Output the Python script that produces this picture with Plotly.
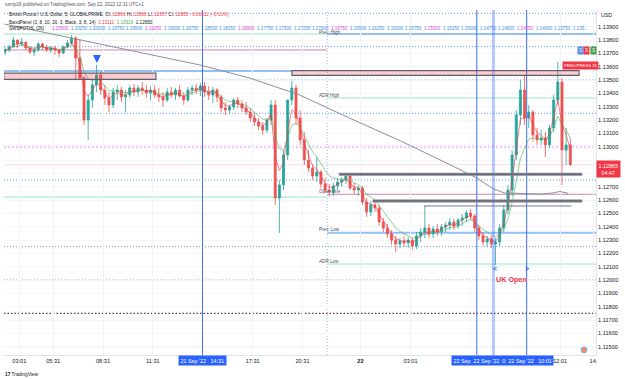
import pandas as pd
import plotly.graph_objects as go

FONT = "Arial, Liberation Sans, sans-serif"
TXT = "#131722"
RED = "#f23645"
TEAL = "#26a69a"
BLUE = "#2962ff"
NB = "\u00a0"

# ---------------- data (GBP/USD, 15-min bars) ----------------
candle_start = "2022-09-21 02:37:30"
first_open = 1.1371
closes = [
    1.13725, 1.13748, 1.138, 1.1377, 1.13785, 1.1374, 1.1371, 1.13725, 1.1377, 1.13748,
    1.13725, 1.1374, 1.13725, 1.13703, 1.13748, 1.13778, 1.13815, 1.13665, 1.13515, 1.132,
    1.1335, 1.13463, 1.13538, 1.13425, 1.13365, 1.13313, 1.1341, 1.13425, 1.13373, 1.13388,
    1.1344, 1.1341, 1.1344, 1.13425, 1.13403, 1.13425, 1.13388, 1.13373, 1.1335, 1.1341,
    1.13388, 1.13425, 1.1338, 1.1335, 1.13425, 1.1344, 1.13425, 1.13455, 1.1341, 1.13388,
    1.13425, 1.13373, 1.1329, 1.13275, 1.13298, 1.1335, 1.1332, 1.1329, 1.1326, 1.13215,
    1.13185, 1.13155, 1.13125, 1.132, 1.13313, 1.12615, 1.12713, 1.12938, 1.1335, 1.1344,
    1.13215, 1.1305, 1.129, 1.1284, 1.1278, 1.1281, 1.1272, 1.12675, 1.1266, 1.12705,
    1.12735, 1.1275, 1.1278, 1.1269, 1.12675, 1.1269, 1.12585, 1.1251, 1.12563, 1.1254,
    1.12435, 1.1239, 1.12345, 1.123, 1.1227, 1.12293, 1.12278, 1.123, 1.12255, 1.1233,
    1.1236, 1.1239, 1.12345, 1.12383, 1.1236, 1.12398, 1.12413, 1.12435, 1.12405, 1.1245,
    1.12465, 1.12503, 1.1248, 1.1239, 1.1233, 1.12285, 1.12308, 1.1227, 1.12285, 1.1239,
    1.12525, 1.12675, 1.12938, 1.13238, 1.13425, 1.13215, 1.1326, 1.13088, 1.1305, 1.13065,
    1.13013, 1.1314, 1.1335, 1.13485, 1.12975, 1.13013, 1.12865]
highs = [
    1.13748, 1.13763, 1.13823, 1.138, 1.13815, 1.13785, 1.13755, 1.1374, 1.13785, 1.13778,
    1.13763, 1.13755, 1.13755, 1.13725, 1.13763, 1.138, 1.13838, 1.1383, 1.138, 1.1353,
    1.13388, 1.135, 1.13613, 1.1356, 1.13463, 1.1341, 1.1344, 1.13463, 1.13448, 1.13425,
    1.13463, 1.1347, 1.13463, 1.13485, 1.13463, 1.13455, 1.13463, 1.1344, 1.1341, 1.1344,
    1.13448, 1.1344, 1.13463, 1.1341, 1.13448, 1.13463, 1.1347, 1.13478, 1.13485, 1.13455,
    1.13448, 1.1344, 1.13388, 1.13335, 1.13313, 1.13365, 1.13373, 1.1335, 1.13335, 1.1329,
    1.1326, 1.13215, 1.13185, 1.13215, 1.1335, 1.1335, 1.1275, 1.12975, 1.1335, 1.13493,
    1.13463, 1.13275, 1.1311, 1.12975, 1.12863, 1.12923, 1.12825, 1.12765, 1.1272, 1.12728,
    1.12765, 1.12773, 1.12795, 1.12795, 1.12728, 1.12705, 1.12705, 1.12615, 1.12593, 1.12593,
    1.12563, 1.12465, 1.1242, 1.12375, 1.1233, 1.12315, 1.1233, 1.12323, 1.12315, 1.1236,
    1.1239, 1.12555, 1.1242, 1.12405, 1.1242, 1.1242, 1.12435, 1.12465, 1.12458, 1.12465,
    1.12495, 1.12525, 1.12533, 1.12495, 1.12413, 1.1236, 1.1233, 1.1233, 1.12315, 1.1242,
    1.12563, 1.12713, 1.12975, 1.13275, 1.135, 1.13538, 1.13313, 1.13275, 1.1314, 1.13125,
    1.1311, 1.13163, 1.13388, 1.13635, 1.13515, 1.1314, 1.13065]
lows = [
    1.13688, 1.1371, 1.13748, 1.1374, 1.13755, 1.13725, 1.13695, 1.1368, 1.1371, 1.13725,
    1.1371, 1.13703, 1.13688, 1.13673, 1.13695, 1.1374, 1.13763, 1.135, 1.135, 1.13163,
    1.1305, 1.1329, 1.1341, 1.13388, 1.13313, 1.1326, 1.1329, 1.1335, 1.13335, 1.1326,
    1.13365, 1.1338, 1.13373, 1.13388, 1.13365, 1.1335, 1.13365, 1.13335, 1.13298, 1.13335,
    1.13365, 1.1335, 1.13365, 1.13313, 1.13335, 1.13388, 1.13395, 1.1338, 1.13373, 1.1335,
    1.13328, 1.13335, 1.1326, 1.13238, 1.13245, 1.13275, 1.1329, 1.1326, 1.13238, 1.13185,
    1.13155, 1.13125, 1.13088, 1.13103, 1.13163, 1.12563, 1.12353, 1.12675, 1.129, 1.13313,
    1.13163, 1.13013, 1.12863, 1.1281, 1.1275, 1.12735, 1.1269, 1.12653, 1.12623, 1.1263,
    1.12675, 1.12698, 1.1272, 1.12675, 1.12645, 1.1263, 1.12563, 1.12473, 1.1248, 1.1251,
    1.12405, 1.1236, 1.12315, 1.12263, 1.1221, 1.1224, 1.12248, 1.1224, 1.12225, 1.12233,
    1.12285, 1.12315, 1.12315, 1.12315, 1.1233, 1.1233, 1.1236, 1.12375, 1.12375, 1.12383,
    1.12405, 1.12435, 1.1245, 1.1236, 1.123, 1.12255, 1.12248, 1.1224, 1.12113, 1.12255,
    1.1236, 1.12495, 1.1263, 1.129, 1.13163, 1.13163, 1.1314, 1.13035, 1.13013, 1.13013,
    1.12923, 1.1299, 1.1311, 1.13313, 1.12713, 1.12863, 1.12855]

# long moving average (grey), read at points
ma_times = ["2022-09-21 02:35", "2022-09-21 08:20", "2022-09-21 14:20", "2022-09-21 17:20",
            "2022-09-21 20:20", "2022-09-21 23:20", "2022-09-22 02:25", "2022-09-22 05:25",
            "2022-09-22 07:00", "2022-09-22 08:00", "2022-09-22 08:40", "2022-09-22 10:50",
            "2022-09-22 11:35", "2022-09-22 12:00", "2022-09-22 12:30"]
ma_values = [1.1392, 1.1377, 1.13613, 1.13515, 1.13388, 1.13215, 1.13043, 1.12863,
             1.12765, 1.12683, 1.12653, 1.12645, 1.12653, 1.12664, 1.1265]

# horizontal levels
swing_levels = [1.14, 1.1375, 1.135, 1.1325, 1.1275, 1.125, 1.1225, 1.12, 1.115]
major_level = 1.13
minor_major_level = 1.1175

prev_session_start = "2022-09-21 02:30"
session_start = "2022-09-21 22:00"
chart_end = "2022-09-22 14:15"
prev_adr_high = 1.13845
prev_adr_low = 1.12622
prev_open = 1.13725
prev_high_line = 1.13568
prev_high_line_end = "2022-09-21 19:53"

level_names = ["Prev. High", "ADR High", "Open Line", "Prev. Low", "ADR Low"]
level_prices = [1.13845, 1.13365, 1.12643, 1.12355, 1.1212]

zone_start = ["2022-09-21 02:33", "2022-09-21 19:53"]
zone_end = ["2022-09-21 11:42", "2022-09-22 13:09"]
zone_low = [1.13505, 1.13534]
zone_high = [1.13551, 1.1357]

sr_start = ["2022-09-21 22:43", "2022-09-22 00:45"]
sr_end = ["2022-09-22 13:20", "2022-09-22 13:20"]
sr_price = [1.12793, 1.12593]
thin_start, thin_end, thin_price = "2022-09-22 03:49", "2022-09-22 12:41", 1.12555

vlines = ["2022-09-21 14:30", "2022-09-22 07:00", "2022-09-22 10:00"]
vline_uk = "2022-09-22 08:00"
vline_session = "2022-09-21 22:00"

last_price = 1.12865

price_tick_vals = [1.115, 1.116, 1.117, 1.118, 1.119, 1.120, 1.121, 1.122, 1.123, 1.124,
                   1.125, 1.126, 1.127, 1.128, 1.129, 1.130, 1.131, 1.132, 1.133, 1.134,
                   1.135, 1.136, 1.137, 1.138, 1.139]
price_tick_text = ["1.11500", "1.11600", "1.11700", "1.11800", "1.11900", "1.12000", "1.12100",
                   "1.12200", "1.12300", "1.12400", "1.12500", "1.12600", "1.12700", "",
                   "", "1.13000", "1.13100", "1.13200", "1.13300", "1.13400", "1.13500",
                   "1.13600", "1.13700", "1.13800", "1.13900"]
time_tick_vals = ["2022-09-21 03:29", "2022-09-21 05:31", "2022-09-21 08:31", "2022-09-21 11:31",
                  "2022-09-21 17:31", "2022-09-21 20:31", "2022-09-22 00:00", "2022-09-22 03:01",
                  "2022-09-22 12:01", "2022-09-22 14:01"]
time_tick_text = ["03:01", "05:31", "08:31", "11:31", "17:31", "20:31", "<b>22</b>", "03:01",
                  "12:01", "14:"]

swspot_values = ["1.20500", "1.20250", "1.20000", "1.19750", "1.19500", "1.19250", "1.19000",
                 "1.18750", "1.18500", "1.18250", "1.18000", "1.17750", "1.17500", "1.17250",
                 "1.17000", "1.16750", "1.16500", "1.16250", "1.16000", "1.15750", "1.15500",
                 "1.15250", "1.15000", "1.14750", "1.14500", "1.14250", "1.14000", "1.13750",
                 "1.135..."]
swspot_major = ["1.20500", "1.19250", "1.18000", "1.16750", "1.15500", "1.14250"]

# ---------------- build ----------------
opens = [first_open] + closes[:-1]
highs = [max(h, o, c) for h, o, c in zip(highs, opens, closes)]
lows = [min(l, o, c) for l, o, c in zip(lows, opens, closes)]
times = pd.date_range(candle_start, periods=len(closes), freq="15min")
cs = pd.Series(closes)
ema_fast = cs.ewm(span=3, adjust=False).mean()
ema_slow = cs.ewm(span=7, adjust=False).mean()

X0, X1 = pd.Timestamp("2022-09-21 02:33:42"), pd.Timestamp("2022-09-22 14:10:15")
Y0, Y1 = 1.114375, 1.14025
L, R, T, B = 4, 596, 10, 355


def PX(xp):
    return (xp - L) / (R - L)


def PY(yp):
    return 1 - (yp - T) / (B - T)


fig = go.Figure()
ann = []

# levels
for lv in swing_levels:
    fig.add_shape(type="line", xref="paper", x0=0, x1=1, y0=lv, y1=lv,
                  line=dict(color="#5fa2f2", width=1, dash="1px,2px"), layer="below")
fig.add_shape(type="line", xref="paper", x0=0, x1=1, y0=major_level, y1=major_level,
              line=dict(color="#e264f2", width=1.6, dash="2px,2px"), layer="below")
fig.add_shape(type="line", xref="paper", x0=0, x1=1, y0=minor_major_level, y1=minor_major_level,
              line=dict(color="#5a2a68", width=1.3, dash="1.5px,2px"), layer="below")
fig.add_shape(type="line", xref="paper", x0=0, x1=1, y0=last_price, y1=last_price,
              line=dict(color="rgba(242,54,69,0.18)", width=1), layer="below")

# previous session lines
for pr, col in [(prev_adr_high, "#9be6bf"), (prev_adr_low, "#9be6bf"), (prev_open, "#c98aab")]:
    fig.add_shape(type="line", x0=prev_session_start, x1=session_start, y0=pr, y1=pr,
                  line=dict(color=col, width=1), layer="below")
fig.add_shape(type="line", x0=prev_session_start, x1=prev_high_line_end, y0=prev_high_line,
              y1=prev_high_line, line=dict(color="#93c0f5", width=2), layer="below")

# current session lines
style = {"Prev. High": ("#93c0f5", 2), "ADR High": ("#9be6bf", 1), "Open Line": ("#c98aab", 1),
         "Prev. Low": ("#93c0f5", 2), "ADR Low": ("#9be6bf", 1)}
for nm, pr in zip(level_names, level_prices):
    col, w = style[nm]
    fig.add_shape(type="line", x0=session_start, x1=chart_end, y0=pr, y1=pr,
                  line=dict(color=col, width=w), layer="below")
    ann.append(dict(x=pd.Timestamp("2022-09-21 21:22"), y=pr, xref="x", yref="y",
                    yshift=2 if nm == "Prev. High" else 3,
                    text=nm, showarrow=False, xanchor="left", yanchor="middle",
                    font=dict(family=FONT, size=4.6, color="#50535e")))

# vertical lines
for vt in vlines:
    fig.add_shape(type="line", x0=vt, x1=vt, yref="paper", y0=0, y1=1,
                  line=dict(color="#3d6ef5", width=1))
fig.add_shape(type="line", x0=vline_uk, x1=vline_uk, yref="paper", y0=0, y1=1,
              line=dict(color="rgba(41,98,255,0.35)", width=3))
fig.add_shape(type="line", x0=vline_session, x1=vline_session, yref="paper", y0=0, y1=1,
              line=dict(color="#8fbaf3", width=1, dash="1px,2px"), layer="below")

# zones
for xs, xe, lo, hi in zip(zone_start, zone_end, zone_low, zone_high):
    fig.add_shape(type="rect", x0=xs, x1=xe, y0=lo, y1=hi,
                  fillcolor="rgba(242,54,69,0.25)", line=dict(color="#5d606b", width=1.2))
for xs, xe, pr in zip(sr_start, sr_end, sr_price):
    fig.add_shape(type="rect", x0=xs, x1=xe, y0=pr - 0.00009, y1=pr + 0.00009,
                  fillcolor="#6a6d78", line=dict(color="#9598a1", width=0.6))
fig.add_shape(type="line", x0=thin_start, x1=thin_end, y0=thin_price, y1=thin_price,
              line=dict(color="#787b86", width=1.2))

# moving averages
fig.add_trace(go.Scatter(x=pd.to_datetime(ma_times), y=ma_values, mode="lines",
                         line=dict(color="#8d8f98", width=1), hoverinfo="skip"))
fig.add_trace(go.Scatter(x=times, y=ema_slow, mode="lines",
                         line=dict(color="rgba(76,175,80,0.6)", width=1), hoverinfo="skip"))
fig.add_trace(go.Scatter(x=times, y=ema_fast, mode="lines",
                         line=dict(color="rgba(242,54,69,0.6)", width=1), hoverinfo="skip"))

fig.add_trace(go.Candlestick(
    x=times, open=opens, high=highs, low=lows, close=closes, whiskerwidth=0,
    increasing=dict(line=dict(color=TEAL, width=0.8), fillcolor=TEAL),
    decreasing=dict(line=dict(color="#ef5350", width=0.8), fillcolor="#ef5350"),
    hoverinfo="skip"))


def txt(xp, yp, text, size=4.7, color=TXT, anchor="left", **kw):
    ann.append(dict(x=PX(xp), y=PY(yp), xref="paper", yref="paper", text=text, showarrow=False,
                    xanchor=anchor, yanchor="middle",
                    font=dict(family=FONT, size=size, color=color), **kw))


def r(s):
    return f"<span style='color:{RED}'>{s}</span>"


txt(3, 5, "turnip16 published on TradingView.com, Sep 22, 2022 12:31 UTC+1", 4.6, "#50535e")
txt(7, 15, "British Pound / U.S. Dollar, 5, GLOBALPRIME" + NB * 2 + "O" + r("1.12866") + " H" + r("1.12868")
    + " L" + r("1.12857") + " C" + r("1.12865") + " " + r("\u22120.00011 (\u22120.01%)"), 4.6)
txt(7, 22, "BandPanel (3, 8, 10, 20, 3, Black, 3, 8, 14)" + NB * 2 + r("1.13111")
    + NB * 2 + "<span style='color:#4caf50'>1.12918</span>" + NB * 2 + "1.12650", 4.6)
txt(7, 29, "SWSPOTHL (26)", 4.6)
for k, v in enumerate(swspot_values):
    txt(50 + 18.6 * k, 28.5, v, 4.5, "#d24dd6" if v in swspot_major else "#3d8fe0")

txt(599, 15, "USD", 5.2)

# markers near top right
txt(580, 50.5, "S", 4.6, "white", "center", bgcolor="#5b8def", borderpad=1)
txt(586.5, 50.5, "S", 4.6, "white", "center", bgcolor=RED, borderpad=1)
txt(593, 50.5, "S", 4.6, "white", "center", bgcolor="#43a047", borderpad=1)
txt(580, 65.5, "PRED/PRESS 33", 4.2, "white", "center", bgcolor=RED, borderpad=1)

# price label
txt(608.5, 169, "1.12865<br>04:47", 5.4, "white", "center", bgcolor=RED, borderpad=1.5)

# time axis labels for vertical lines
txt(202, 360.5, "21 Sep '22" + NB * 3 + "14:31", 5.4, "white", "center", bgcolor=BLUE, borderpad=1.5)
txt(502, 360.5, "22 Sep" + NB * 2 + "22 Sep '22" + NB * 2 + "0" + NB * 2 + "22 Sep '22" + NB * 3 + "10:01",
    5.4, "white", "center", bgcolor=BLUE, borderpad=1.5)

# UK open
txt(511, 279, "<b>UK Open</b>", 7.2, RED, "center")
txt(495, 268.5, "<b>&lt;</b>", 7, BLUE, "center")
txt(527, 268.5, "<b>&gt;</b>", 7, BLUE, "center")

# logo
txt(3, 374, "<b>17</b> TradingView", 4.8, TXT)

# blue arrow
ann.append(dict(x=pd.Timestamp("2022-09-21 08:09"), y=1.13628, xref="x", yref="y", text="",
                showarrow=True, ax=0, ay=-8, arrowhead=2, arrowsize=1, arrowwidth=1.6,
                arrowcolor=BLUE))

fig.add_trace(go.Scatter(x=[pd.Timestamp("2022-09-22 13:27")], y=[1.11475], mode="markers",
                         marker=dict(size=6, color="#ef8a7d", line=dict(color="#7fb0f0", width=1)),
                         hoverinfo="skip"))

fig.update_layout(
    width=625, height=379, margin=dict(l=L, r=625 - R, t=T, b=379 - B),
    paper_bgcolor="white", plot_bgcolor="white", showlegend=False,
    font=dict(family=FONT, color=TXT),
    xaxis=dict(type="date", range=[X0, X1], tickvals=pd.to_datetime(time_tick_vals),
               ticktext=time_tick_text, showgrid=True, gridcolor="#f0f3fa", gridwidth=1,
               tickfont=dict(family=FONT, size=5.6, color=TXT), ticks="",
               showline=True, linecolor="#e0e3eb", rangeslider=dict(visible=False),
               zeroline=False),
    yaxis=dict(side="right", range=[Y0, Y1], tickvals=price_tick_vals,
               ticktext=price_tick_text, showgrid=True, gridcolor="#f3f5fa",
               tickfont=dict(family=FONT, size=5.6, color=TXT), ticks="",
               showline=True, linecolor="#e0e3eb", zeroline=False),
)
fig.layout.annotations = ann

fig.write_html("out.html")
